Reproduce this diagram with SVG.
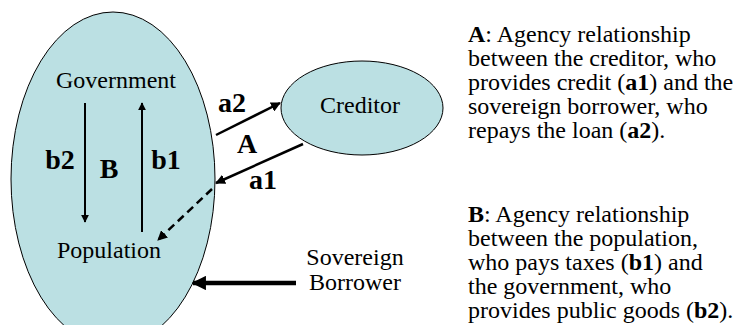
<svg xmlns="http://www.w3.org/2000/svg" width="743" height="325" viewBox="0 0 743 325">
<style>
.shape{fill:#bbe0e3;stroke:#000;stroke-width:1}
.t{font-family:"Liberation Serif","Times New Roman",serif;font-size:24px;fill:#000}
.b{font-weight:bold}
.lb{font-family:"Liberation Serif","Times New Roman",serif;font-size:28px;font-weight:bold;fill:#000}
.c{stroke:#000;fill:none}
</style>
<defs>
<marker id="ah" viewBox="0 0 10 10" refX="9" refY="5" markerWidth="4" markerHeight="4" orient="auto" markerUnits="strokeWidth">
<path d="M0,0 L10,5 L0,10 z" fill="#000"/>
</marker>
<marker id="ahs" viewBox="0 0 10 10" refX="9" refY="5" markerWidth="3.2" markerHeight="3.2" orient="auto" markerUnits="strokeWidth">
<path d="M0,0 L10,5 L0,10 z" fill="#000"/>
</marker>
</defs>
<rect width="743" height="325" fill="#fff"/>
<g id="sovereign-borrower">
<ellipse class="shape" cx="113" cy="179" rx="102" ry="167"/>
<text class="t" x="116" y="88" text-anchor="middle">Government</text>
<text class="t" x="109" y="258" text-anchor="middle">Population</text>
<text class="lb" x="60" y="169" text-anchor="middle">b2</text>
<text class="lb" x="109" y="178" text-anchor="middle">B</text>
<text class="lb" x="166" y="169" text-anchor="middle">b1</text>
</g>
<g id="creditor">
<ellipse class="shape" cx="362" cy="108" rx="81" ry="47"/>
<text class="t" x="360" y="113" text-anchor="middle">Creditor</text>
</g>
<g id="connectors">
<line class="c" x1="85" y1="103" x2="85" y2="222" stroke-width="2" marker-end="url(#ah)"/>
<line class="c" x1="142" y1="232" x2="142" y2="103" stroke-width="2" marker-end="url(#ah)"/>
<line class="c" x1="216" y1="135" x2="280" y2="103" stroke-width="2.5" marker-end="url(#ah)"/>
<line class="c" x1="303" y1="144" x2="216" y2="183" stroke-width="2.5" marker-end="url(#ah)"/>
<line class="c" x1="212" y1="189" x2="158" y2="240" stroke-width="2.5" stroke-dasharray="8,5" marker-end="url(#ah)"/>
<line class="c" x1="296" y1="283" x2="193" y2="283" stroke-width="4.5" marker-end="url(#ahs)"/>
<text class="lb" x="232" y="112" text-anchor="middle">a2</text>
<text class="lb" x="247" y="153" text-anchor="middle">A</text>
<text class="lb" x="263" y="189" text-anchor="middle">a1</text>
</g>
<g id="sovereign-label">
<text class="t" x="355" y="265" text-anchor="middle">Sovereign</text>
<text class="t" x="355" y="290" text-anchor="middle">Borrower</text>
</g>
<g id="legend">
<text class="t" x="468" y="42"><tspan class="b">A</tspan>: Agency relationship</text>
<text class="t" x="468" y="66">between the creditor, who</text>
<text class="t" x="468" y="90">provides credit (<tspan class="b">a1</tspan>) and the</text>
<text class="t" x="468" y="114">sovereign borrower, who</text>
<text class="t" x="468" y="138">repays the loan (<tspan class="b">a2</tspan>).</text>
<text class="t" x="468" y="222"><tspan class="b">B</tspan>: Agency relationship</text>
<text class="t" x="468" y="246">between the population,</text>
<text class="t" x="468" y="270">who pays taxes (<tspan class="b">b1</tspan>) and</text>
<text class="t" x="468" y="294">the government, who</text>
<text class="t" x="468" y="318">provides public goods (<tspan class="b">b2</tspan>).</text>
</g>
</svg>
